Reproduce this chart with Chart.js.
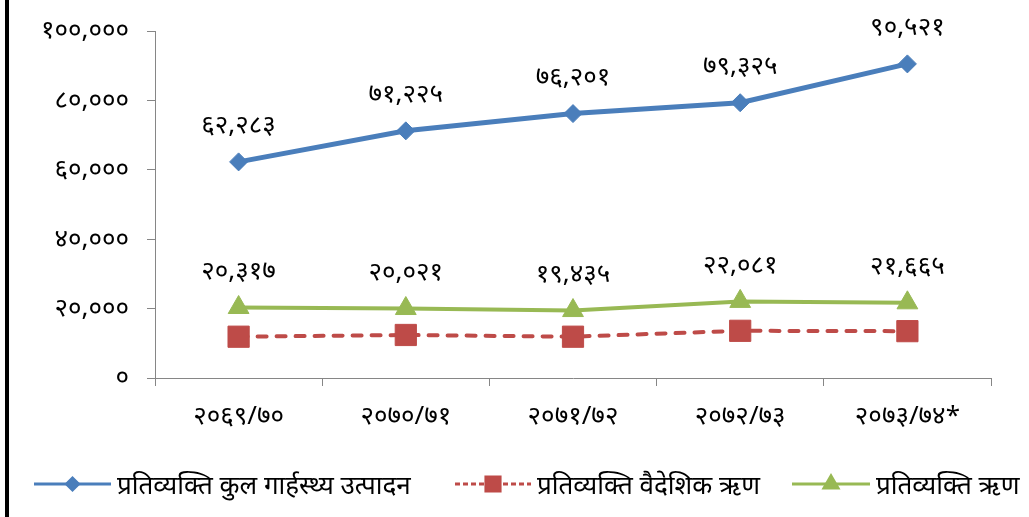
<!DOCTYPE html>
<html>
<head>
<meta charset="utf-8">
<script src="https://cdn.jsdelivr.net/npm/chart.js@4.4.1/dist/chart.umd.min.js"></script>
<style>
  html, body { margin: 0; padding: 0; background: #fff; }
  #wrap { width: 1029px; height: 517px; position: relative; }
</style>
</head>
<body>
<div id="wrap"><canvas id="grafico"></canvas></div>
<script>
// Datos del gráfico
const categorias = ["२०६९/७०", "२०७०/७१", "२०७१/७२", "२०७२/७३", "२०७३/७४*"];
const gdpPerCapita = [62283, 71225, 76201, 79325, 90521];
const foreignDebtPerCapita = [11900, 12400, 11900, 13600, 13500];
const debtPerCapita = [20317, 20021, 19435, 22081, 21665];
const yTicks = [0, 20000, 40000, 60000, 80000, 100000];
const seriesNames = [
  "प्रतिव्यक्ति कुल गार्हस्थ्य उत्पादन",
  "प्रतिव्यक्ति वैदेशिक ऋण",
  "प्रतिव्यक्ति ऋण"
];

const FONT = "'Noto Sans', sans-serif";
const NUM_SIZE = 26;
const BLUE = "#4a7ebb";
const RED = "#be4b48";
const GREEN = "#98b954";
const AXIS = "#868686";

// Convierte un número a dígitos devanagari con comas
function toNepali(n) {
  const digits = "०१२३४५६७८९";
  return Number(n).toLocaleString("en-US").replace(/[0-9]/g, d => digits[d]);
}

// Fondo blanco y barra negra a la izquierda
const fondo = {
  id: "fondo",
  beforeDraw(chart) {
    const ctx = chart.ctx;
    ctx.save();
    ctx.fillStyle = "#fff";
    ctx.fillRect(0, 0, chart.width, chart.height);
    ctx.fillStyle = "#000";
    ctx.fillRect(5, 0, 4, chart.height);
    ctx.restore();
  }
};

// Etiquetas de datos encima de las series azul y verde
const etiquetas = {
  id: "etiquetas",
  afterDatasetsDraw(chart) {
    const ctx = chart.ctx;
    ctx.save();
    ctx.fillStyle = "#000";
    ctx.font = NUM_SIZE + "px " + FONT;
    ctx.textAlign = "center";
    ctx.textBaseline = "middle";
    [0, 2].forEach(i => {
      const meta = chart.getDatasetMeta(i);
      const vals = chart.data.datasets[i].data;
      meta.data.forEach((pt, j) => {
        ctx.fillText(toNepali(vals[j]), pt.x, pt.y - 36);
      });
    });
    ctx.restore();
  }
};

// Leyenda a mano, estilo Excel (línea con marcador)
const leyenda = {
  id: "leyenda",
  afterDraw(chart) {
    const ctx = chart.ctx;
    const y = 484;
    const items = [
      { x0: 34, x1: 111, color: BLUE, dash: [], style: "rectRot", r: 6, text: seriesNames[0] },
      { x0: 455, x1: 531, color: RED, dash: [5, 3], style: "rect", r: 10, text: seriesNames[1] },
      { x0: 792, x1: 870, color: GREEN, dash: [], style: "triangle", r: 8, text: seriesNames[2] }
    ];
    ctx.save();
    items.forEach(it => {
      ctx.strokeStyle = it.color;
      ctx.lineWidth = 3;
      ctx.setLineDash(it.dash);
      ctx.beginPath();
      ctx.moveTo(it.x0, y);
      ctx.lineTo(it.x1, y);
      ctx.stroke();
      ctx.setLineDash([]);
      Chart.helpers.drawPoint(ctx, {
        pointStyle: it.style, radius: it.r, borderWidth: 1, rotation: 0
      }, (it.x0 + it.x1) / 2, y);
      ctx.fillStyle = it.color;
      ctx.fill();
      ctx.fillStyle = "#000";
      ctx.font = "26px " + FONT;
      ctx.textAlign = "left";
      ctx.textBaseline = "middle";
      ctx.fillText(it.text, it.x1 + 6, y + 3);
    });
    ctx.restore();
  }
};

const config = {
  type: "line",
  data: {
    labels: categorias,
    datasets: [
      {
        label: seriesNames[0],
        data: gdpPerCapita,
        borderColor: BLUE,
        backgroundColor: BLUE,
        borderWidth: 5,
        pointStyle: "rectRot",
        pointRadius: 9,
        pointBorderWidth: 1,
        tension: 0
      },
      {
        label: seriesNames[1],
        data: foreignDebtPerCapita,
        borderColor: RED,
        backgroundColor: RED,
        borderWidth: 4,
        borderDash: [9, 10],
        borderCapStyle: "round",
        pointStyle: "rect",
        pointRadius: 15,
        pointBorderWidth: 1,
        tension: 0
      },
      {
        label: seriesNames[2],
        data: debtPerCapita,
        borderColor: GREEN,
        backgroundColor: GREEN,
        borderWidth: 4,
        pointStyle: "triangle",
        pointRadius: 12,
        pointBorderWidth: 1,
        tension: 0
      }
    ]
  },
  options: {
    responsive: true,
    maintainAspectRatio: false,
    animation: false,
    devicePixelRatio: 1,
    layout: { padding: { top: 30, right: 38, left: 0, bottom: 0 } },
    plugins: {
      legend: { display: false },
      tooltip: { enabled: false }
    },
    scales: {
      x: {
        offset: true,
        grid: { offset: true, drawOnChartArea: false, tickLength: 8, color: AXIS },
        border: { color: AXIS, width: 1 },
        ticks: { color: "#000", font: { family: FONT, size: NUM_SIZE, lineHeight: 1 }, padding: 18, maxRotation: 0 },
        afterFit: s => { s.height = 139; }
      },
      y: {
        min: 0,
        max: 100000,
        afterBuildTicks: s => { s.ticks = yTicks.map(v => ({ value: v })); },
        grid: { drawOnChartArea: false, tickLength: 8, color: AXIS },
        border: { color: AXIS, width: 1 },
        ticks: { color: "#000", font: { family: FONT, size: NUM_SIZE, lineHeight: 1 }, padding: 18, callback: v => toNepali(v) },
        afterFit: s => { s.width = 155; }
      }
    }
  },
  plugins: [fondo, etiquetas, leyenda]
};

new Chart(document.getElementById("grafico").getContext("2d"), config);
</script>
</body>
</html>
